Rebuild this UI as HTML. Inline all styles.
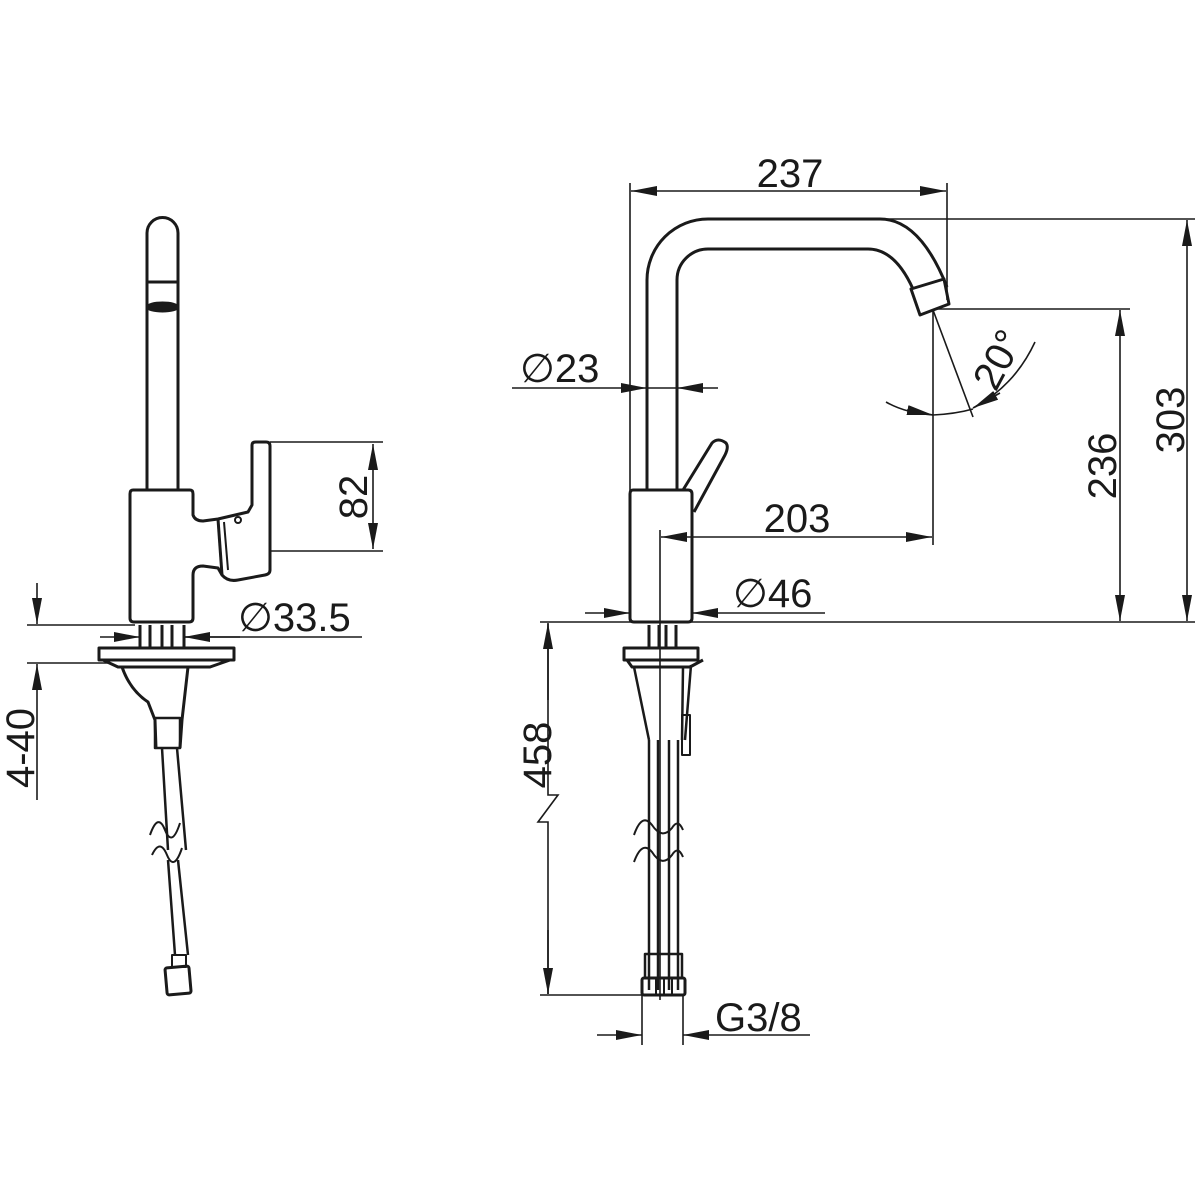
<!DOCTYPE html>
<html><head><meta charset="utf-8"><style>
html,body{margin:0;padding:0;background:#fff;}
svg{display:block;}
text{font-family:"Liberation Sans",sans-serif;fill:#1a1a1a;}
</style></head><body>
<svg width="1200" height="1200" viewBox="0 0 1200 1200" xmlns="http://www.w3.org/2000/svg">
<defs>
<marker id="a" viewBox="0 0 10 10" refX="10" refY="5" markerWidth="26" markerHeight="10" markerUnits="userSpaceOnUse" orient="auto-start-reverse" preserveAspectRatio="none">
<path d="M0,0 L10,5 L0,10 Z" fill="#1a1a1a"/></marker>
</defs>
<g fill="none" stroke="#1a1a1a" stroke-width="3" stroke-linejoin="round">
<!-- LEFT VIEW -->
<path d="M147,490 L147,233 A15.5,15.5 0 0 1 178,233 L178,490"/>
<line x1="147" y1="282" x2="178" y2="282"/>
<ellipse cx="162.5" cy="307" rx="15" ry="4" fill="#1a1a1a"/>
<path d="M133,490 L190,490 Q193,490 193,494 L193,515 Q195,521 203,521 L218,519 L248,512 L252,505 L252,445 Q252,442 256,442 L266,442 Q270,442 270,446 L270,570 Q270,574 265,575 L238,580 Q228,582 222,575 L218,568 L203,566 Q193,566 193,575 L193,618 Q193,622 189,622 L134,622 Q130,622 130,618 L130,494 Q130,490 133,490 Z"/>
<path d="M218,519 L222,575" />
<path d="M224,522 L228,570" stroke-width="2"/>
<circle cx="238" cy="520" r="3" stroke-width="2"/>
<line x1="140" y1="625" x2="140" y2="648"/><line x1="150" y1="625" x2="150" y2="648"/>
<line x1="162" y1="625" x2="162" y2="648"/><line x1="172" y1="625" x2="172" y2="648"/><line x1="184" y1="625" x2="184" y2="648"/>
<rect x="99" y="648" width="135" height="12"/>
<path d="M103,660 L118,667 L210,667 L230,660"/>
<path d="M122,667 Q130,690 148,702 L155,720 L156,748" />
<path d="M188,667 L182,720 L180,748"/>
<rect x="155" y="718" width="25" height="30" stroke-width="2.5"/>
<path d="M162,748 L168,850 M177,748 L186,850" stroke-width="2.5"/>
<path d="M150,835 Q158,812 165,830 Q172,848 180,823" stroke-width="2"/>
<path d="M152,855 Q160,838 167,855 Q174,872 182,848" stroke-width="2"/>
<path d="M168,860 L175,955 M178,860 L188,955" stroke-width="2.5"/>
<rect x="172" y="955" width="14" height="12" stroke-width="2"/>
<rect x="166" y="967" width="24" height="27" rx="2" transform="rotate(-5 178 980)"/>
<!-- RIGHT VIEW -->
<path d="M647,490 L647,280 A61,61 0 0 1 708,219 L880,219 Q920,219 947,287"/>
<path d="M677,490 L677,280 A31,31 0 0 1 708,249 L868,249 Q895,249 913,289"/>
<path d="M911,289 L944,279 L949,304 L920,315 Z"/>
<path d="M633,490 L688,490 Q692,490 692,494 L692,618 Q692,622 688,622 L634,622 Q630,622 630,618 L630,494 Q630,490 633,490 Z"/>
<path d="M683,490 L712,443 Q718,437 726,443 Q729,447 725,455 L694,512"/>
<line x1="649" y1="625" x2="649" y2="648"/><line x1="659" y1="625" x2="659" y2="648"/>
<line x1="666" y1="625" x2="666" y2="648"/><line x1="676" y1="625" x2="676" y2="648"/>
<rect x="624" y="648" width="74" height="12"/>
<path d="M627,660 L632,667 L690,667 L703,660"/>
<path d="M634,667 L649,740 M683,667 L682,740 M691,665 L685,740" stroke-width="2.5"/>
<path d="M649,740 L649,990 M658,740 L658,990 M669,740 L669,990 M678,740 L678,990" stroke-width="2.5"/>
<rect x="682" y="715" width="8" height="40" stroke-width="2"/>
<path d="M634,835 Q642,812 652,825 Q662,840 672,828 Q678,818 683,830" stroke-width="2"/>
<path d="M634,862 Q642,840 652,852 Q662,868 672,855 Q678,845 683,857" stroke-width="2"/>
<rect x="645" y="954" width="37" height="24" stroke-width="2.5"/>
<rect x="642" y="978" width="43" height="17" rx="2"/>
<line x1="656" y1="979" x2="656" y2="994" stroke-width="2"/><line x1="664" y1="979" x2="664" y2="994" stroke-width="2"/><line x1="672" y1="979" x2="672" y2="994" stroke-width="2"/>
</g>
<g fill="none" stroke="#1a1a1a" stroke-width="1.6">
<line x1="270" y1="442" x2="383" y2="442"/><line x1="270" y1="551" x2="383" y2="551"/>
<line x1="373" y1="444" x2="373" y2="549" marker-start="url(#a)" marker-end="url(#a)"/>
<line x1="100" y1="637" x2="140" y2="637" marker-end="url(#a)"/>
<line x1="240" y1="637" x2="184" y2="637" marker-end="url(#a)"/>
<line x1="184" y1="637" x2="362" y2="637"/>
<line x1="27" y1="625" x2="135" y2="625"/><line x1="27" y1="663" x2="110" y2="663"/>
<line x1="37" y1="583" x2="37" y2="624" marker-end="url(#a)"/>
<line x1="37" y1="800" x2="37" y2="664" marker-end="url(#a)"/>
<line x1="630" y1="183" x2="630" y2="620"/><line x1="947" y1="183" x2="947" y2="300"/>
<line x1="631" y1="191" x2="946" y2="191" marker-start="url(#a)" marker-end="url(#a)"/>
<line x1="880" y1="219" x2="1195" y2="219"/><line x1="540" y1="622" x2="1195" y2="622"/>
<line x1="1187" y1="220" x2="1187" y2="621" marker-start="url(#a)" marker-end="url(#a)"/>
<line x1="935" y1="309" x2="1130" y2="309"/>
<line x1="1120" y1="310" x2="1120" y2="621" marker-start="url(#a)" marker-end="url(#a)"/>
<line x1="933" y1="309" x2="933" y2="545"/><line x1="660" y1="530" x2="660" y2="1000"/>
<line x1="661" y1="537" x2="932" y2="537" marker-start="url(#a)" marker-end="url(#a)"/>
<line x1="512" y1="388" x2="647" y2="388" marker-end="url(#a)"/>
<line x1="718" y1="388" x2="677" y2="388" marker-end="url(#a)"/>
<line x1="647" y1="388" x2="677" y2="388"/>
<line x1="585" y1="613" x2="630" y2="613" marker-end="url(#a)"/>
<line x1="825" y1="613" x2="692" y2="613" marker-end="url(#a)"/>
<line x1="933" y1="310" x2="973" y2="417"/>
<path d="M886,402 Q905,413 933,415"/>
<path d="M907,410 L933,415" marker-end="url(#a)"/>
<path d="M933,415 Q955,414 973,409"/>
<path d="M1035,342 Q1015,385 975,407"/>
<path d="M1000,393 L973,408" marker-end="url(#a)"/>
<line x1="540" y1="995" x2="645" y2="995"/>
<path d="M548,624 L548,795 L558,795 L538,822 L548,822 L548,994"/>
<line x1="548" y1="700" x2="548" y2="623" marker-end="url(#a)"/>
<line x1="548" y1="930" x2="548" y2="994" marker-end="url(#a)"/>
<line x1="642" y1="995" x2="642" y2="1045"/><line x1="683" y1="995" x2="683" y2="1045"/>
<line x1="597" y1="1035" x2="642" y2="1035" marker-end="url(#a)"/>
<line x1="810" y1="1035" x2="683" y2="1035" marker-end="url(#a)"/>
</g>
<g font-size="40">
<text x="0" y="0" transform="translate(367,497) rotate(-90)" text-anchor="middle">82</text>
<text x="238" y="631">∅33.5</text>
<text x="0" y="0" transform="translate(34,748) rotate(-90)" text-anchor="middle">4-40</text>
<text x="790" y="187" text-anchor="middle">237</text>
<text x="0" y="0" transform="translate(1184,420) rotate(-90)" text-anchor="middle">303</text>
<text x="0" y="0" transform="translate(1116,466) rotate(-90)" text-anchor="middle">236</text>
<text x="797" y="532" text-anchor="middle">203</text>
<text x="520" y="382">∅23</text>
<text x="733" y="607">∅46</text>
<text x="0" y="0" transform="translate(1010,366) rotate(-62)" text-anchor="middle">20°</text>
<text x="0" y="0" transform="translate(551,755) rotate(-90)" text-anchor="middle">458</text>
<text x="715" y="1031">G3/8</text>
</g>
</svg>
</body></html>
